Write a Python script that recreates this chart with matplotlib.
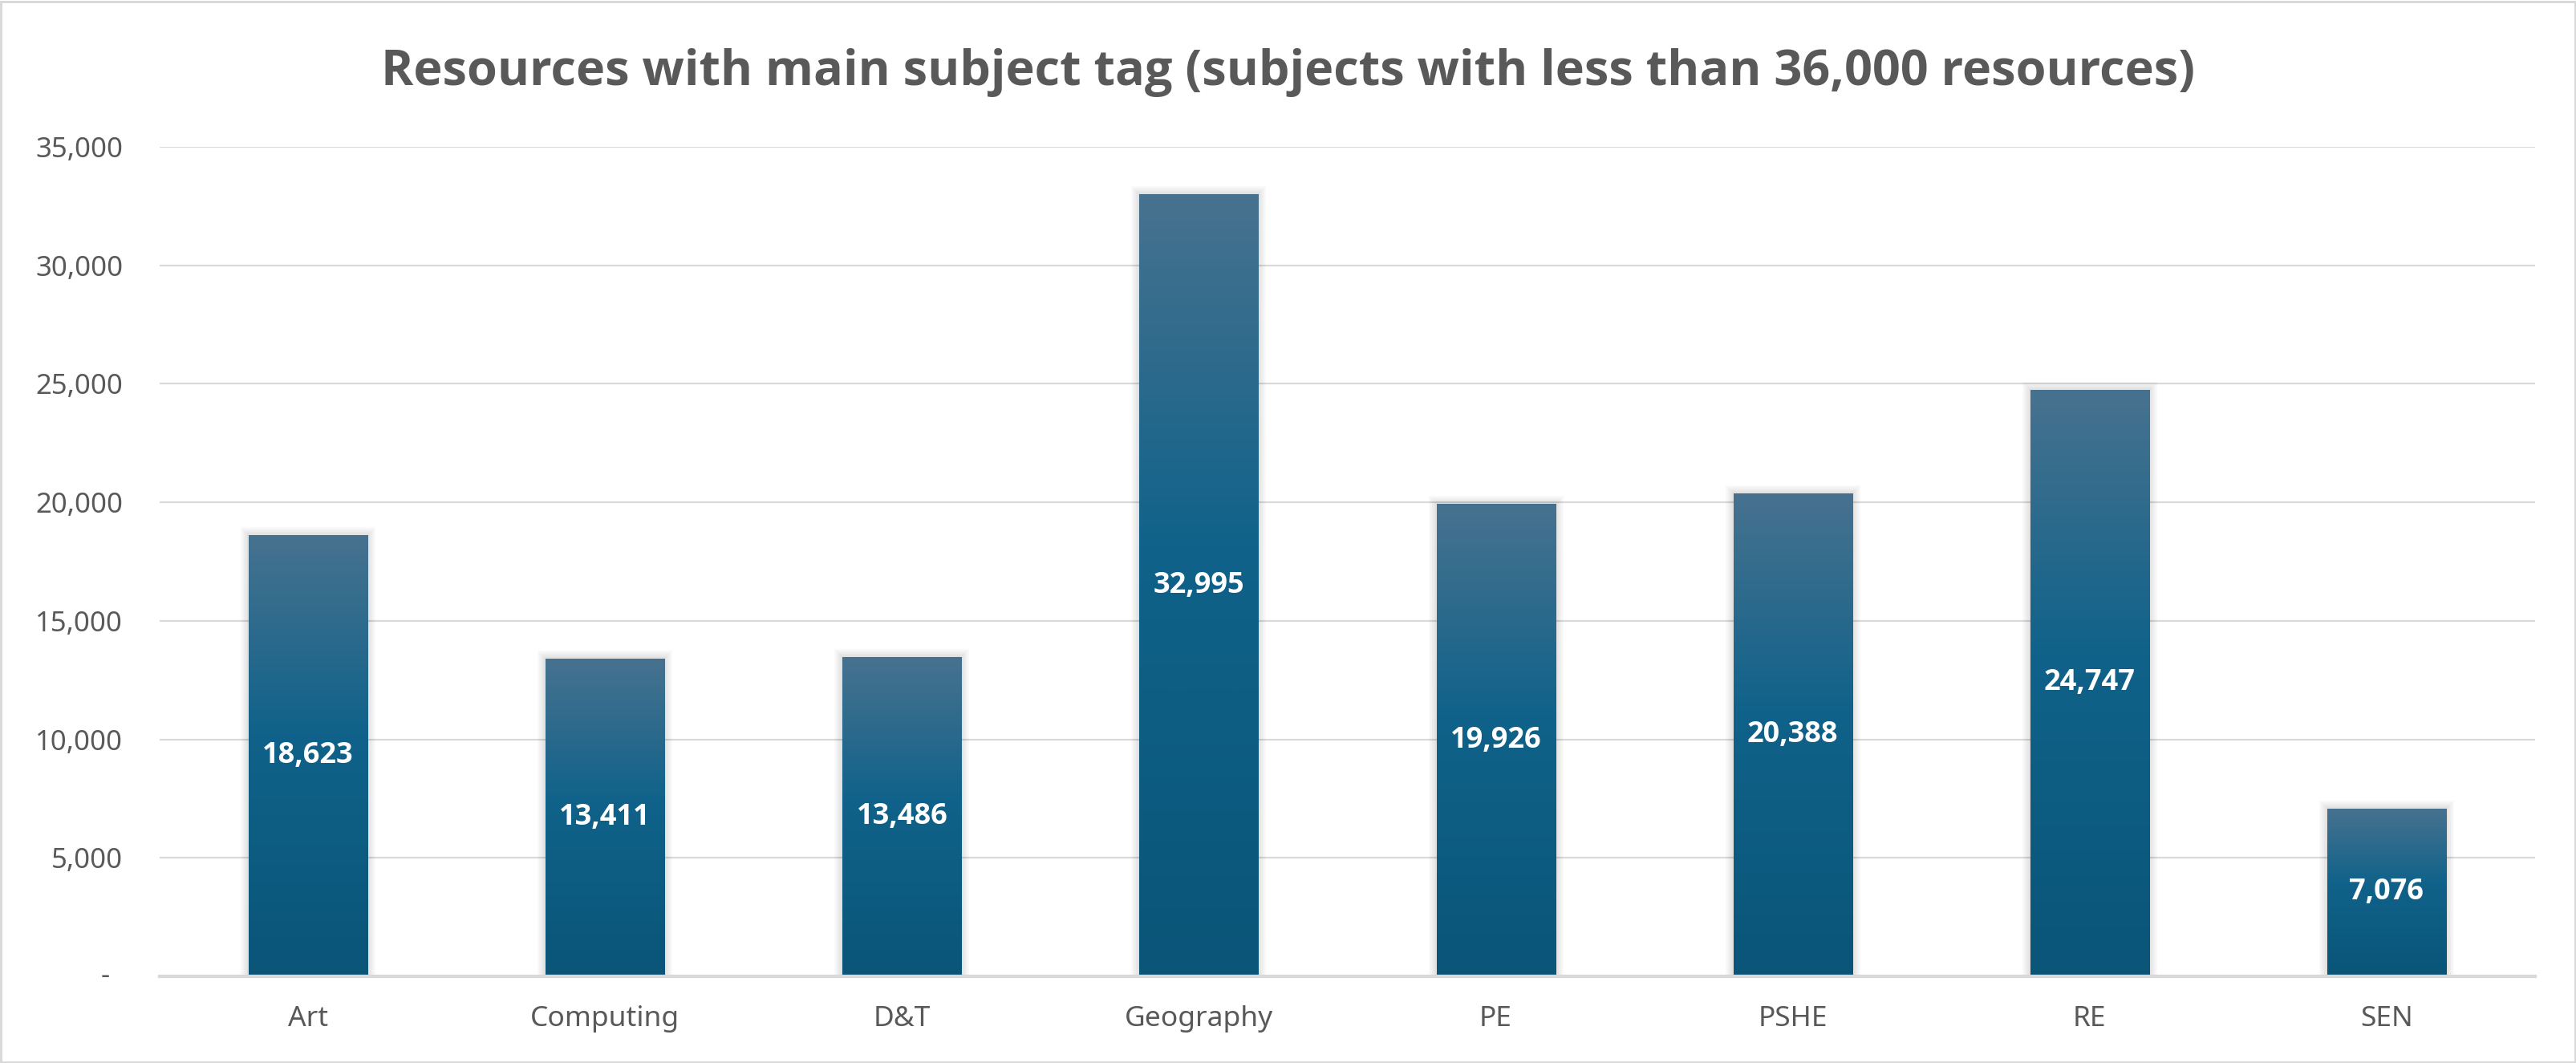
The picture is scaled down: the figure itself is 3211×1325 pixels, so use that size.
import matplotlib
matplotlib.use("Agg")
import matplotlib.pyplot as plt
import matplotlib.patheffects as pe
from matplotlib.colors import LinearSegmentedColormap
from matplotlib.patches import Rectangle
from matplotlib.ticker import FixedLocator, FuncFormatter
from matplotlib import font_manager
import numpy as np

# ---- data ----
categories = ["Art", "Computing", "D&T", "Geography", "PE", "PSHE", "RE", "SEN"]
values = [18623, 13411, 13486, 32995, 19926, 20388, 24747, 7076]
yticks = [0, 5000, 10000, 15000, 20000, 25000, 30000, 35000]
title = "Resources with main subject tag (subjects with less than 36,000 resources)"

FONT = "Noto Sans"


def bold_family():
    for fam in ("Open Sans", "Lato", "Roboto", "Inter", "Liberation Sans", "DejaVu Sans"):
        try:
            p = font_manager.findfont(font_manager.FontProperties(family=fam, weight="bold"),
                                      fallback_to_default=False)
            if "bold" in p.lower() or "variable" in p.lower() or "wght" in p.lower():
                return fam
        except Exception:
            pass
    return "DejaVu Sans"


BFONT = bold_family()
TXT = "#595959"
GRID = "#D9D9D9"

W, H, DPI = 3212, 1325, 100
fig = plt.figure(figsize=(W / DPI, H / DPI), dpi=DPI)
fig.patch.set_facecolor("white")

ax = fig.add_axes([199 / W, 1 - 1217 / H, (3160 - 199) / W, (1217 - 183) / H])
ax.set_facecolor("white")

x = np.arange(len(categories))
px = 72 / DPI  # points per pixel

shadow = [pe.Stroke(linewidth=w * px, foreground="black", alpha=0.025, joinstyle="miter")
          for w in (20, 16, 12, 8, 4)] + [pe.Normal()]

bars = ax.bar(x, values, width=0.4, color="#0F5F84", zorder=3, path_effects=shadow)

cmap = LinearSegmentedColormap.from_list(
    "grad", [(0.0, "#0A5578"), (0.55, "#10628A"), (1.0, "#47728F")])
grad = np.linspace(0, 1, 256).reshape(-1, 1)
for b in bars:
    x0, w_, h_ = b.get_x(), b.get_width(), b.get_height()
    im = ax.imshow(grad, extent=(x0, x0 + w_, 0, h_), origin="lower",
                   aspect="auto", cmap=cmap, zorder=4, interpolation="bilinear")
    im.set_clip_path(b)

for xi, v in zip(x, values):
    ax.text(xi, v / 2, f"{v:,}", ha="center", va="center", color="white",
            fontsize=26, fontweight="bold", family=BFONT, zorder=6)

ax.set_xlim(-0.5, len(categories) - 0.5)
ax.set_ylim(0, 35000)

ax.yaxis.set_major_locator(FixedLocator(yticks))
ax.yaxis.set_major_formatter(FuncFormatter(lambda v, p: "" if v == 0 else f"{int(v):,}"))
ax.grid(axis="y", color=GRID, linewidth=2.2 * px, zorder=0)
ax.set_axisbelow(True)
ax.set_xticks(x)
ax.set_xticklabels(categories)

for s in ("top", "right", "left"):
    ax.spines[s].set_visible(False)
ax.spines["bottom"].set_color(GRID)
ax.spines["bottom"].set_linewidth(4.3 * px)
ax.spines["bottom"].set_zorder(5)

ax.tick_params(axis="y", length=0, pad=33, labelsize=25, labelcolor=TXT)
ax.tick_params(axis="x", length=0, pad=26, labelsize=25.5, labelcolor=TXT)
for lab in ax.get_yticklabels() + ax.get_xticklabels():
    lab.set_family(FONT)

# accounting-style zero label
ax.text(0, 0, "-", ha="right", va="center", fontsize=25, color=TXT, family=FONT,
        transform=ax.get_yaxis_transform()
        + matplotlib.transforms.ScaledTranslation(-62 / DPI, 0, fig.dpi_scale_trans))

fig.text(0.5, 1 - 106 / H, title, ha="center", va="baseline", fontsize=44,
         fontweight="bold", color=TXT, family=BFONT)

# chart border
fig.add_artist(Rectangle((1.5 / W, 1.5 / H), 1 - 3 / W, 1 - 3 / H, transform=fig.transFigure,
                         fill=False, edgecolor=GRID, linewidth=3 * px))

fig.savefig("out.png", dpi=DPI, facecolor="white")
